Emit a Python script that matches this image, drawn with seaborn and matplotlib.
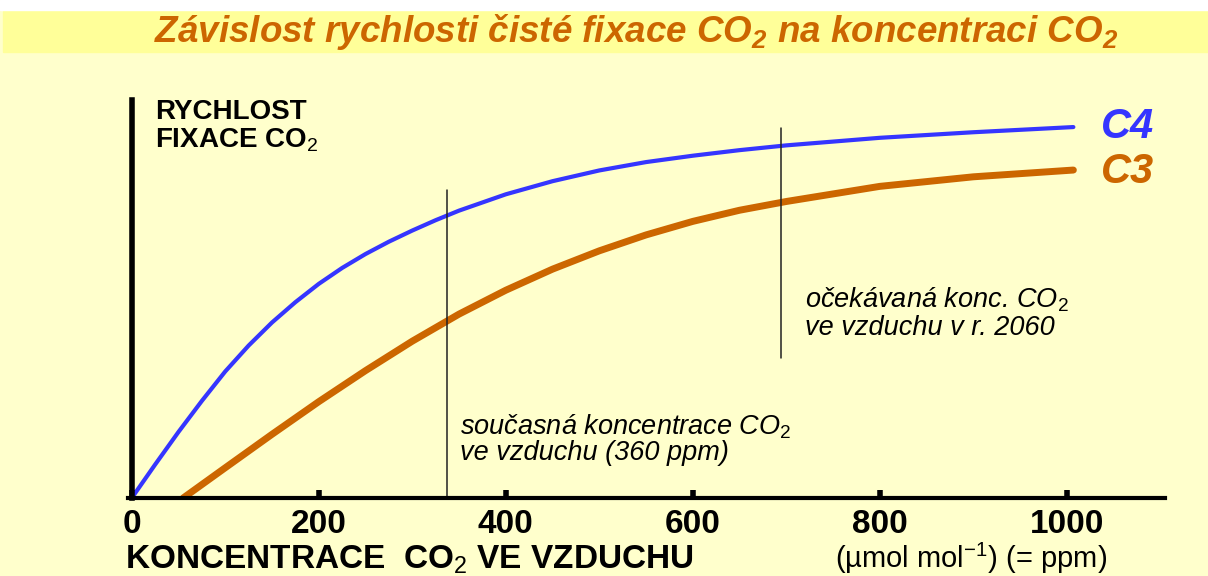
import matplotlib
matplotlib.use("Agg")
import matplotlib.pyplot as plt
import matplotlib.patches as patches
import pandas as pd
import seaborn as sns

# data (x = ppm CO2, y = relative fixation rate)
c4_x = [0, 25, 50, 75, 100, 125, 150, 175, 200, 225, 250, 275, 300, 325, 350,
        400, 450, 500, 550, 600, 650, 700, 800, 900, 1007]
c4_y = [0, 8.4, 16.6, 24.4, 31.8, 38.3, 44.1, 49.2, 53.8, 57.8, 61.3, 64.4, 67.2, 69.8, 72.2,
        76.3, 79.6, 82.3, 84.4, 86.0, 87.4, 88.6, 90.5, 91.9, 93.2]
c3_x = [55, 100, 150, 200, 250, 300, 350, 400, 450, 500, 550, 600, 650, 700, 800, 900, 1007]
c3_y = [0, 7.6, 16.0, 24.2, 32.0, 39.4, 46.2, 52.2, 57.5, 62.1, 66.1, 69.5, 72.3, 74.5, 78.3, 80.7, 82.4]
x_ticks = [0, 200, 400, 600, 800, 1000]
now_x, now_top = 337, 77.4
future_x, future_bottom, future_top = 694, 35.2, 93.0

df = pd.concat([
    pd.DataFrame({"ppm": c4_x, "rate": c4_y, "typ": "C4"}),
    pd.DataFrame({"ppm": c3_x, "rate": c3_y, "typ": "C3"}),
])

sns.set_style("ticks")
plt.rcParams["font.family"] = ["Liberation Sans", "DejaVu Sans"]
plt.rcParams["text.color"] = "black"
plt.rcParams["xtick.color"] = "black"
plt.rcParams["mathtext.fontset"] = "custom"
plt.rcParams["mathtext.rm"] = "Liberation Sans"
plt.rcParams["mathtext.it"] = "Liberation Sans:italic"
plt.rcParams["mathtext.bf"] = "Liberation Sans:bold:italic"

bg = "#FFFFCC"
blue = "#3535FF"
orange = "#CC6600"

fig = plt.figure(figsize=(12.08, 5.76), dpi=100, facecolor=bg)
# title band
fig.patches.append(patches.Rectangle((3 / 1208, 1 - 52 / 576), 1, 41 / 576,
                                     transform=fig.transFigure, color="#FFFF99", zorder=0))
fig.patches.append(patches.Rectangle((0, 1 - 10 / 576), 1, 10 / 576,
                                     transform=fig.transFigure, color="white", zorder=0))
fig.text(0.527, 1 - 32 / 576, r"Závislost rychlosti čisté fixace CO$_\mathbf{2}$ na koncentraci CO$_\mathbf{2}$",
         ha="center", va="center", fontsize=26.5, fontweight="bold", fontstyle="italic", color=orange)

ax = fig.add_axes([128 / 1208, 78 / 576, 1037 / 1208, 398 / 576])
ax.set_facecolor(bg)

sns.lineplot(data=df[df.typ == "C4"], x="ppm", y="rate", color=blue, lw=3, ax=ax, legend=False)
sns.lineplot(data=df[df.typ == "C3"], x="ppm", y="rate", color=orange, lw=5, ax=ax, legend=False)

ax.plot([now_x, now_x], [0, now_top], color="#222222", lw=1.1)
ax.plot([future_x, future_x], [future_bottom, future_top], color="#222222", lw=1.1)

ax.set_xlim(-4, 1105)
ax.set_ylim(0, 100)
ax.spines["left"].set_position(("data", 0))
ax.spines["left"].set_linewidth(4)
ax.spines["left"].set_color("black")
ax.spines["bottom"].set_linewidth(3)
ax.spines["bottom"].set_color("black")
for s in ["top", "right"]:
    ax.spines[s].set_visible(False)
ax.set_yticks([])
ax.set_xticks(x_ticks)
ax.set_xticklabels([str(t) for t in x_ticks], fontsize=24, fontweight="bold")
ax.tick_params(axis="x", direction="in", length=6, width=4, pad=8)
ax.set_xlabel("")
ax.set_ylabel("")

ax.text(25, 97, "RYCHLOST", fontsize=20, fontweight="bold", va="center")
ax.text(25, 90, "FIXACE CO$_2$", fontsize=20, fontweight="bold", va="center")
ax.text(1036, 93.2, "C4", fontsize=30, fontweight="bold", fontstyle="italic", color=blue, va="center")
ax.text(1036, 81.9, "C3", fontsize=30, fontweight="bold", fontstyle="italic", color=orange, va="center")

ax.text(351, 17.8, "současná koncentrace CO$_2$", fontsize=19.5, fontstyle="italic", va="center")
ax.text(351, 11.4, "ve vzduchu (360 ppm)", fontsize=19.5, fontstyle="italic", va="center")
ax.text(720, 49.7, "očekávaná konc. CO$_2$", fontsize=19.5, fontstyle="italic", va="center")
ax.text(720, 42.7, "ve vzduchu v r. 2060", fontsize=19.5, fontstyle="italic", va="center")

fig.text(125 / 1208, 1 - 560 / 576, "KONCENTRACE  CO$_2$ VE VZDUCHU", fontsize=24, fontweight="bold", va="center")
fig.text(835 / 1208, 1 - 558 / 576, "(µmol mol$^{\\mathregular{-1}}$) (= ppm)", fontsize=21, va="center")

fig.savefig("out.png", dpi=100, facecolor=bg)
